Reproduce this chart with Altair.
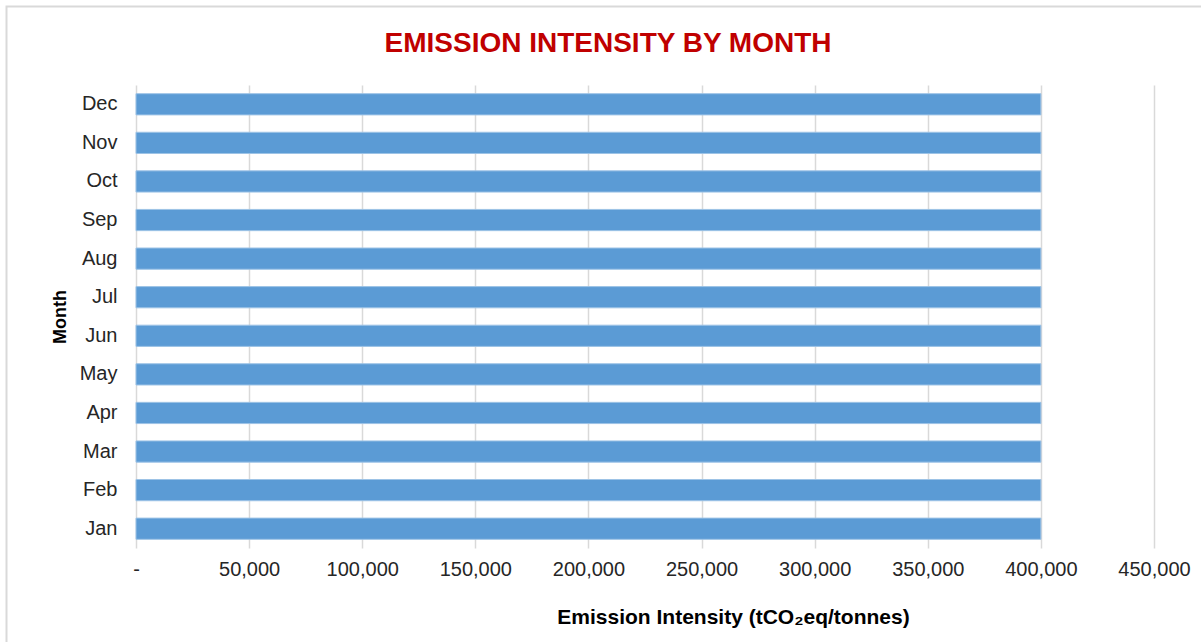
import altair as alt
import pandas as pd

# Monthly emission intensity (tCO2eq/tonnes)
months = ["Jan", "Feb", "Mar", "Apr", "May", "Jun",
          "Jul", "Aug", "Sep", "Oct", "Nov", "Dec"]
intensity = [400000] * 12
x_ticks = [0, 50000, 100000, 150000, 200000, 250000, 300000, 350000, 400000, 450000]
chart_title = "EMISSION INTENSITY BY MONTH"

df = pd.DataFrame({"Month": months, "Intensity": intensity})

FONT = "Liberation Sans"
W, H = 1018, 463
one_row = pd.DataFrame({"k": [0]})

# light frame around the whole figure
frame = alt.Chart(one_row).mark_rect(
    fill=None, stroke="#D9D9D9", strokeWidth=2, clip=False
).encode(
    x=alt.value(-129.5), x2=alt.value(1200), y=alt.value(-78.5), y2=alt.value(700)
)

# chart heading
heading = alt.Chart(one_row).mark_text(
    font=FONT, fontSize=28, fontWeight="bold", color="#C00000",
    align="center", baseline="middle",
).encode(
    x=alt.value(472), y=alt.value(-41), text=alt.value(chart_title)
)

bars = alt.Chart(df).mark_bar(
    color="#5B9BD5", stroke="#9DC3E6", strokeWidth=1
).encode(
    x=alt.X(
        "Intensity:Q",
        scale=alt.Scale(domain=[0, 450000], nice=False),
        axis=alt.Axis(
            values=x_ticks,
            labelExpr="datum.value == 0 ? '-' : format(datum.value, ',')",
            title="Emission Intensity (tCO\u2082eq/tonnes)",
            titleFont=FONT, titleFontSize=21, titleFontWeight="bold", titleColor="#000000",
            titlePadding=27, titleX=597,
            labelFont=FONT, labelFontSize=20, labelColor="#262626", labelPadding=11,
            labelFlush=False, labelOverlap=False, labelBound=False,
            grid=True, gridColor="#D9D9D9", gridWidth=1.5,
            domain=False, ticks=False,
        ),
    ),
    y=alt.Y(
        "Month:N",
        sort=months[::-1],
        scale=alt.Scale(paddingInner=0.45, paddingOuter=0.225),
        axis=alt.Axis(
            title="Month",
            titleFont=FONT, titleFontSize=18, titleFontWeight="bold", titleColor="#000000",
            titlePadding=10,
            labelFont=FONT, labelFontSize=20, labelColor="#262626", labelPadding=19,
            grid=False, domain=False, ticks=False,
        ),
    ),
)

chart = alt.layer(frame, bars, heading).properties(
    width=W, height=H,
    padding={"left": 136, "top": 85, "right": 47, "bottom": 94},
    autosize=alt.AutoSizeParams(type="none"),
).configure(background="#FFFFFF").configure_view(strokeWidth=0, stroke="transparent")

chart.save("out.html", embed_options={"renderer": "svg", "actions": False})
